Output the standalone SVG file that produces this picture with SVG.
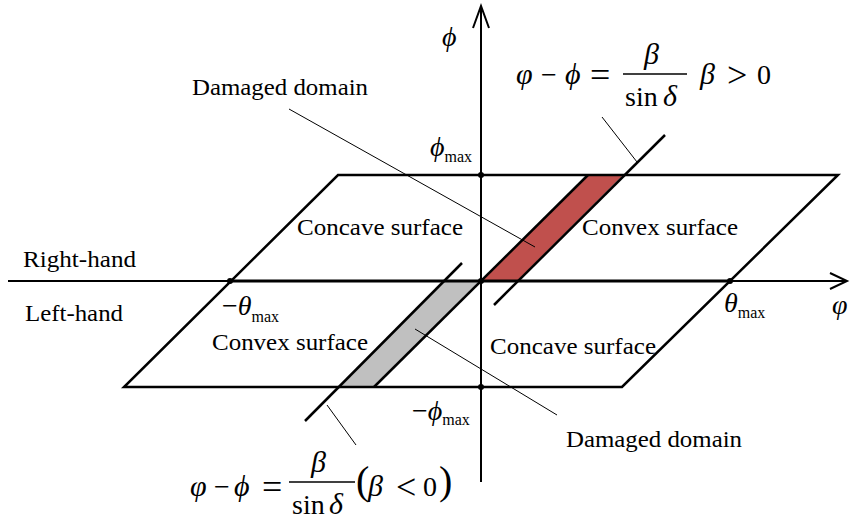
<svg xmlns="http://www.w3.org/2000/svg" width="850" height="523" viewBox="0 0 850 523">
<style>
.t{font-family:"Liberation Serif","Times New Roman",serif;font-size:23px;fill:#000}
.m{font-family:"Liberation Serif","Times New Roman",serif;font-size:28px;fill:#000}
.g{font-size:30px}
.i{font-style:italic}
.r{font-size:36px}
.s{font-family:"Liberation Serif","Times New Roman",serif;font-size:16px;fill:#000}
.p{font-size:40px}
.thick{stroke:#000;stroke-width:2.5;fill:none}
.ax{stroke:#000;stroke-width:2;fill:none}
.lead{stroke:#000;stroke-width:1;fill:none}
.bar{stroke:#000;stroke-width:1.3}
.dot{fill:#000}
</style>
<rect width="850" height="523" fill="#fff"/>
<g id="regions">
<polygon id="red" points="481,281 517,281 623,175 588,175" fill="#C0504D"/>
<polygon id="grey" points="443,281 481,281 374,387 338,387" fill="#C0C0C0"/>
</g>
<g id="plane">
<polygon points="338,175 838,175 622,387 124,387" class="thick"/>
</g>
<g id="connectors">
<line x1="8" y1="281" x2="847" y2="281" class="ax"/>
<line x1="230" y1="281" x2="730" y2="281" stroke="#000" stroke-width="3"/>
<polyline points="830,273 847,281 830,289" class="ax"/>
<line x1="481" y1="6" x2="481" y2="482" class="ax"/>
<polyline points="473,28 481,6 489,28" class="ax"/>
<line x1="374" y1="387" x2="588" y2="175" class="thick"/>
<line x1="494" y1="305" x2="665" y2="135" class="thick"/>
<line x1="305" y1="421" x2="462" y2="263" class="thick"/>
<line x1="289" y1="109" x2="535" y2="247" class="lead"/>
<line x1="415" y1="329" x2="557" y2="415" class="lead"/>
<line x1="602" y1="117" x2="637" y2="162" class="lead"/>
<line x1="327" y1="405" x2="356" y2="445" class="lead"/>
</g>
<g id="dots">
<circle cx="481" cy="175" r="3" class="dot"/>
<circle cx="481" cy="387" r="3" class="dot"/>
<circle cx="230" cy="281" r="3" class="dot"/>
<circle cx="730" cy="281" r="3" class="dot"/>
<circle cx="481" cy="281" r="3" class="dot"/>
</g>
<g id="labels">
<text class="m i" x="442" y="46">ϕ</text>
<text class="t" x="192" y="95" textLength="176" lengthAdjust="spacingAndGlyphs">Damaged domain</text>
<text x="430" y="156"><tspan class="m i">ϕ</tspan><tspan class="s" y="162">max</tspan></text>
<text class="t" x="297" y="235" textLength="166" lengthAdjust="spacingAndGlyphs">Concave surface</text>
<text class="t" x="582" y="235" textLength="156" lengthAdjust="spacingAndGlyphs">Convex surface</text>
<text class="t" x="23" y="267" textLength="113" lengthAdjust="spacingAndGlyphs">Right-hand</text>
<text class="t" x="25" y="321" textLength="98" lengthAdjust="spacingAndGlyphs">Left-hand</text>
<text x="222" y="315"><tspan class="m">−</tspan><tspan class="m i">θ</tspan><tspan class="s" y="322">max</tspan></text>
<text x="724" y="312"><tspan class="m i">θ</tspan><tspan class="s" y="318">max</tspan></text>
<text class="m i" x="832" y="314">φ</text>
<text class="t" x="212" y="350" textLength="156" lengthAdjust="spacingAndGlyphs">Convex surface</text>
<text class="t" x="490" y="354" textLength="166" lengthAdjust="spacingAndGlyphs">Concave surface</text>
<text x="412" y="420"><tspan class="m">−</tspan><tspan class="m i">ϕ</tspan><tspan class="s" y="425">max</tspan></text>
<text class="t" x="566" y="447" textLength="176" lengthAdjust="spacingAndGlyphs">Damaged domain</text>
</g>
<g id="formula-top">
<text class="m" y="84"><tspan class="i g" x="516">φ</tspan><tspan x="541">−</tspan><tspan class="i g" x="565">ϕ</tspan><tspan class="r" x="590" y="87">=</tspan></text>
<text class="m i g" x="644" y="64">β</text>
<line x1="623" y1="74" x2="687" y2="74" class="bar"/>
<text class="m" y="106"><tspan x="625">sin</tspan><tspan class="i g" x="663">δ</tspan></text>
<text class="m" y="84"><tspan class="i g" x="700">β</tspan><tspan class="r" x="727" y="87">&gt;</tspan><tspan x="757" y="84">0</tspan></text>
</g>
<g id="formula-bottom">
<text class="m" y="496"><tspan class="i g" x="190">φ</tspan><tspan x="214">−</tspan><tspan class="i g" x="234">ϕ</tspan><tspan class="r" x="262" y="499">=</tspan></text>
<text class="m i g" x="311" y="472">β</text>
<line x1="289" y1="482" x2="355" y2="482" class="bar"/>
<text class="m" y="514"><tspan x="292">sin</tspan><tspan class="i g" x="329">δ</tspan></text>
<text class="m" y="496"><tspan class="p" x="356" y="494">(</tspan><tspan class="i g" x="368" y="496">β</tspan><tspan class="r" x="396" y="499">&lt;</tspan><tspan x="423" y="496">0</tspan><tspan class="p" x="439" y="494">)</tspan></text>
</g>
</svg>
